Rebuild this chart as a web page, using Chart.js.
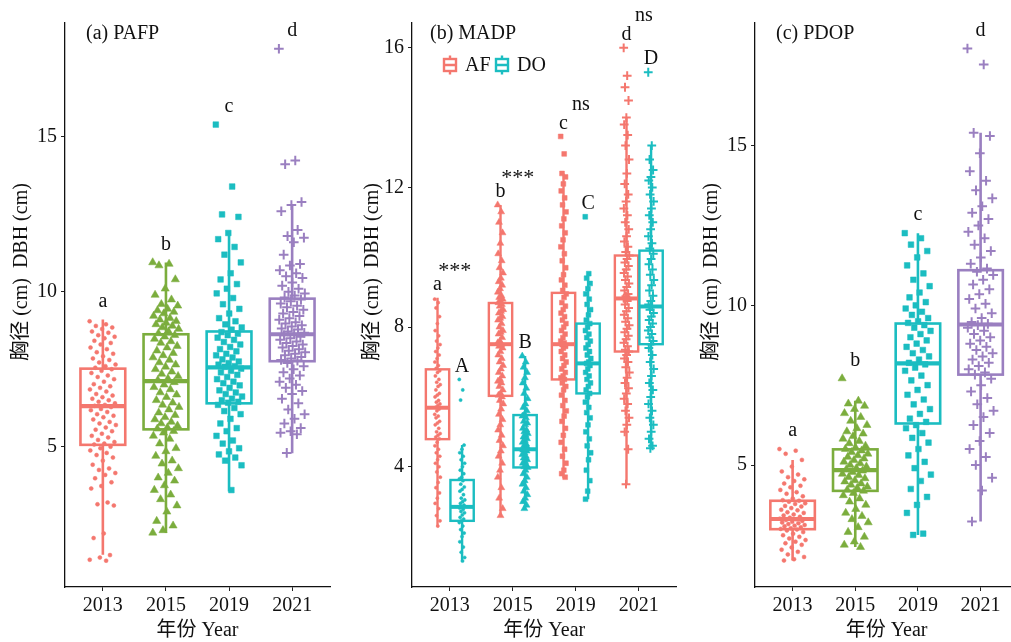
<!DOCTYPE html>
<html>
<head>
<meta charset="utf-8">
<script src="https://cdn.jsdelivr.net/npm/chart.js@4.4.1/dist/chart.umd.min.js"></script>
<style>
html, body { margin: 0; padding: 0; background: #fff; overflow: hidden; width: 1011px; height: 642px; }
canvas { position: absolute; top: 0; }
</style>
</head>
<body>
<canvas id="pa" width="340" height="642" style="left:0"></canvas>
<canvas id="pb" width="345" height="642" style="left:340px"></canvas>
<canvas id="pc" width="340" height="642" style="left:685px"></canvas>
<script>
const years = ['2013', '2015', '2019', '2021'];
const shapes = ['circle', 'triangle', 'rect', 'cross'];
const yearColors = ['#F4776E', '#7BAD3D', '#1BBDC1', '#9A7FC0'];
const afColor = '#F4776E';
const doColor = '#1BBDC1';
const yTitle = '胸径 (cm)  DBH (cm)';
const xTitle = '年份 Year';

// (a) PAFP
const pafp2013 = [9.05, 8.95, 8.9, 8.85, 8.8, 8.72, 8.68, 8.6, 8.55, 8.5, 8.42, 8.35, 8.3, 8.2, 8.15, 8.05, 8.0, 7.92, 7.85, 7.8, 7.72, 7.65, 7.6, 7.55,
  7.5, 7.45, 7.38, 7.3, 7.25, 7.18, 7.1, 7.02, 6.95, 6.9, 6.85, 6.78, 6.7, 6.65, 6.6, 6.55, 6.5, 6.45, 6.4, 6.35, 6.32,
  6.28, 6.22, 6.18, 6.12, 6.05, 6.0, 5.95, 5.88, 5.8, 5.75, 5.7, 5.62, 5.55, 5.5, 5.42, 5.35, 5.3, 5.22, 5.15, 5.1, 5.07,
  5.0, 4.95, 4.88, 4.8, 4.73, 4.65, 4.55, 4.42, 4.3, 4.25, 4.15, 4.09, 3.98, 3.85, 3.73, 3.65, 3.2, 3.14, 3.1, 2.2, 2.05, 1.5, 1.42, 1.35, 1.32];
const pafp2015 = [10.95, 10.9, 10.85, 10.4, 10.1, 9.9, 9.75, 9.6, 9.55, 9.45, 9.4, 9.35, 9.3, 9.22, 9.15, 9.1, 9.05, 9.0, 8.95, 8.9, 8.85, 8.8, 8.72, 8.66,
  8.6, 8.55, 8.48, 8.4, 8.35, 8.25, 8.2, 8.1, 8.02, 7.95, 7.88, 7.8, 7.72, 7.65, 7.58, 7.5, 7.42, 7.35, 7.28, 7.2, 7.15,
  7.08, 7.0, 6.92, 6.85, 6.75, 6.68, 6.6, 6.5, 6.42, 6.35, 6.28, 6.2, 6.1, 6.02, 5.95, 5.88, 5.8, 5.75, 5.68, 5.62, 5.58,
  5.5, 5.45, 5.35, 5.25, 5.1, 4.95, 4.85, 4.7, 4.55, 4.45, 4.3, 4.15, 4.0, 3.9, 3.75, 3.6, 3.45, 3.3, 3.1, 2.9, 2.6, 2.45, 2.3, 2.22];
const pafp2019 = [15.4, 13.4, 12.5, 12.42, 11.9, 11.7, 11.45, 11.2, 10.95, 10.6, 10.4, 10.25, 10.1, 9.95, 9.8, 9.6, 9.45, 9.3, 9.15, 9.05, 8.95, 8.85, 8.78,
  8.7, 8.65, 8.6, 8.52, 8.45, 8.38, 8.3, 8.22, 8.15, 8.08, 8.0, 7.95, 7.88, 7.82, 7.75, 7.7, 7.65, 7.6, 7.58,
  7.52, 7.45, 7.4, 7.32, 7.25, 7.18, 7.1, 7.05, 6.98, 6.9, 6.82, 6.75, 6.7, 6.62, 6.55, 6.5, 6.45, 6.42,
  6.35, 6.25, 6.15, 6.05, 5.9, 5.75, 5.6, 5.5, 5.35, 5.2, 5.1, 4.95, 4.85, 4.75, 4.65, 4.55, 4.4, 3.6];
const pafp2021 = [17.85, 14.24, 14.12, 12.9, 12.8, 12.6, 12.0, 11.8, 11.75, 11.6, 11.2, 10.9, 10.85, 10.7, 10.6, 10.5, 10.45, 10.3, 10.2, 10.1, 10.0, 9.95, 9.88, 9.82,
  9.75, 9.7, 9.62, 9.55, 9.5, 9.42, 9.35, 9.3, 9.22, 9.15, 9.1, 9.02, 8.98, 8.92, 8.88, 8.82, 8.78, 8.72, 8.68, 8.65,
  8.6, 8.55, 8.5, 8.45, 8.4, 8.35, 8.3, 8.25, 8.2, 8.15, 8.1, 8.05, 8.0, 7.95, 7.9, 7.85, 7.8, 7.78,
  7.7, 7.6, 7.5, 7.4, 7.3, 7.2, 7.1, 7.0, 6.9, 6.8, 6.7, 6.55, 6.4, 6.2, 6.05, 5.9, 5.75, 5.6, 5.5, 5.45, 5.4, 4.8];
const pafpLow = [1.51, 2.21, 3.55, 4.79];
const pafpQ1 = [5.06, 5.56, 6.40, 7.76];
const pafpMed = [6.31, 7.12, 7.56, 8.63];
const pafpQ3 = [7.52, 8.63, 8.72, 9.78];
const pafpHigh = [9.11, 10.95, 11.96, 12.77];
const pafpLetters = ['a', 'b', 'c', 'd'];
const pafpTicks = [5, 10, 15];

// (b) MADP
const madpAF2013 = [8.8, 8.7, 8.55, 8.3, 8.1, 7.9, 7.75, 7.6, 7.5, 7.4, 7.3, 7.2, 7.1, 7.0, 6.9, 6.82, 6.75, 6.7, 6.6, 6.5, 6.42, 6.35, 6.3, 6.2, 6.1, 6.05, 6.0,
  5.9, 5.85, 5.8, 5.75, 5.7, 5.65, 5.6, 5.5, 5.45, 5.4, 5.3, 5.25, 5.2, 5.1, 5.0, 4.95, 4.9, 4.85, 4.8, 4.7, 4.6, 4.5, 4.4, 4.3, 4.2, 4.1, 4.0,
  3.85, 3.7, 3.55, 3.4, 3.25, 3.1, 2.95, 2.8, 2.6, 2.45, 2.3];
const madpDO2013 = [6.5, 6.2, 5.91, 4.62, 4.5, 4.4, 4.3, 4.2, 4.1, 4.0, 3.9, 3.8, 3.7, 3.65, 3.6, 3.5, 3.42, 3.35, 3.3, 3.2, 3.1, 3.05, 3.0, 2.95, 2.9,
  2.85, 2.82, 2.78, 2.72, 2.68, 2.62, 2.55, 2.5, 2.45, 2.4, 2.3, 2.2, 2.1, 2.0, 1.85, 1.7, 1.55, 1.4, 1.3];
const madpAF2015 = [11.5, 11.3, 11.0, 10.7, 10.4, 10.1, 9.9, 9.7, 9.55, 9.4, 9.3, 9.2, 9.1, 9.0, 8.9, 8.85, 8.8, 8.75, 8.7, 8.65, 8.6, 8.5, 8.45, 8.4,
  8.3, 8.25, 8.2, 8.1, 8.0, 7.9, 7.85, 7.8, 7.7, 7.6, 7.55, 7.5, 7.45, 7.4, 7.3, 7.2, 7.1, 7.0, 6.9, 6.8, 6.7, 6.6, 6.5, 6.45, 6.4, 6.3, 6.2,
  6.1, 6.05, 6.0, 5.9, 5.8, 5.65, 5.5, 5.35, 5.2, 5.05, 4.9, 4.75, 4.6, 4.45, 4.3, 4.1, 3.9, 3.7, 3.4, 3.1, 2.8, 2.6];
const madpDO2015 = [7.17, 7.0, 6.85, 6.7, 6.55, 6.4, 6.25, 6.1, 5.95, 5.8, 5.7, 5.6, 5.5, 5.45, 5.4, 5.3, 5.25, 5.2, 5.1, 5.05, 5.0, 4.95, 4.9, 4.85,
  4.8, 4.75, 4.7, 4.65, 4.6, 4.55, 4.5, 4.48, 4.45, 4.4, 4.35, 4.3, 4.25, 4.2, 4.15, 4.1, 4.05, 4.0, 3.98, 3.9, 3.8, 3.7, 3.6, 3.5, 3.4, 3.3,
  3.2, 3.1, 3.0, 2.9, 2.8];
const madpAF2019 = [13.46, 12.96, 12.4, 12.3, 12.1, 11.9, 11.7, 11.5, 11.3, 11.1, 10.9, 10.7, 10.5, 10.3, 10.1, 9.9, 9.7, 9.5, 9.35, 9.2, 9.05, 8.95,
  8.85, 8.7, 8.6, 8.5, 8.4, 8.3, 8.2, 8.1, 8.0, 7.9, 7.8, 7.7, 7.6, 7.55, 7.5, 7.45, 7.4, 7.3, 7.2, 7.1, 7.0, 6.9, 6.8, 6.7, 6.6, 6.55, 6.5,
  6.4, 6.3, 6.2, 6.05, 5.9, 5.75, 5.6, 5.45, 5.3, 5.1, 4.9, 4.7, 4.5, 4.3, 4.1, 3.9, 3.8, 3.7];
const madpDO2019 = [11.16, 9.53, 9.4, 9.25, 9.1, 8.95, 8.8, 8.65, 8.5, 8.35, 8.2, 8.1, 8.0, 7.9, 7.8, 7.7, 7.6, 7.5, 7.4, 7.3, 7.2, 7.1, 7.0, 6.96,
  6.9, 6.8, 6.7, 6.6, 6.5, 6.4, 6.3, 6.2, 6.1, 6.0, 5.85, 5.7, 5.55, 5.4, 5.2, 5.0, 4.8, 4.6, 4.4, 4.2, 3.9, 3.6, 3.3, 3.07];
const madpAF2021 = [16.0, 15.2, 14.87, 14.49, 14.0, 13.8, 13.5, 13.2, 12.8, 12.4, 12.1, 11.8, 11.6, 11.4, 11.2, 11.0, 10.8, 10.6, 10.45, 10.3, 10.15,
  10.05, 9.95, 9.85, 9.75, 9.65, 9.55, 9.45, 9.35, 9.25, 9.15, 9.05, 8.95, 8.88, 8.82, 8.75, 8.65, 8.55, 8.45, 8.35, 8.25, 8.15, 8.05, 7.95,
  7.85, 7.75, 7.65, 7.55, 7.45, 7.35, 7.3, 7.2, 7.1, 7.0, 6.85, 6.7, 6.55, 6.4, 6.25, 6.1, 5.95, 5.8, 5.6, 5.4, 5.2, 5.0, 4.5, 3.5];
const madpDO2021 = [15.3, 13.2, 12.8, 12.5, 12.3, 12.2, 12.0, 11.8, 11.6, 11.4, 11.2, 11.0, 10.8, 10.6, 10.4, 10.25, 10.1, 9.95, 9.8, 9.65, 9.5,
  9.35, 9.2, 9.05, 8.9, 8.75, 8.65, 8.59, 8.5, 8.4, 8.3, 8.2, 8.1, 8.0, 7.9, 7.8, 7.7, 7.6, 7.51, 7.4, 7.2, 7.0, 6.8, 6.6, 6.4, 6.2, 6.0,
  5.8, 5.6, 5.4, 5.2, 5.0, 4.8, 4.6, 4.53];
const madpAFLow = [2.28, 2.57, 3.67, 3.48];
const madpAFQ1 = [4.79, 6.03, 6.50, 7.30];
const madpAFMed = [5.69, 7.51, 7.51, 8.82];
const madpAFQ3 = [6.79, 8.69, 8.98, 10.05];
const madpAFHigh = [8.84, 11.5, 12.4, 14.0];
const madpDOLow = [1.28, 2.76, 3.07, 4.53];
const madpDOQ1 = [2.45, 3.98, 6.10, 7.51];
const madpDOMed = [2.85, 4.50, 6.96, 8.59];
const madpDOQ3 = [3.62, 5.48, 8.10, 10.19];
const madpDOHigh = [4.62, 7.17, 9.53, 13.2];
const madpAFLetters = ['a', 'b', 'c', 'd'];
const madpDOLetters = ['A', 'B', 'C', 'D'];
const madpSig = ['***', '***', 'ns', 'ns'];
const madpTicks = [4, 8, 12, 16];

// (c) PDOP
const pdop2013 = [5.5, 5.45, 5.35, 5.16, 4.95, 4.8, 4.7, 4.62, 4.55, 4.5, 4.42, 4.35, 4.3, 4.22, 4.15, 4.1, 4.02, 3.95, 3.9, 3.88, 3.85, 3.8, 3.78,
  3.72, 3.7, 3.65, 3.6, 3.58, 3.52, 3.5, 3.45, 3.42, 3.38, 3.35, 3.32, 3.3, 3.28, 3.25, 3.22, 3.2, 3.18, 3.15, 3.12, 3.1, 3.08, 3.05, 3.02,
  3.0, 2.98, 2.95, 2.9, 2.85, 2.8, 2.75, 2.7, 2.65, 2.6, 2.55, 2.5, 2.42, 2.35, 2.28, 2.2, 2.12, 2.05, 2.01];
const pdop2015 = [7.71, 7.01, 6.92, 6.85, 6.75, 6.62, 6.5, 6.38, 6.25, 6.15, 6.05, 5.98, 5.9, 5.82, 5.75, 5.68, 5.6, 5.55, 5.5, 5.45, 5.4, 5.35,
  5.3, 5.25, 5.2, 5.15, 5.1, 5.05, 5.0, 4.95, 4.9, 4.86, 4.82, 4.78, 4.72, 4.68, 4.62, 4.58, 4.52, 4.48, 4.42, 4.38, 4.32, 4.28, 4.22, 4.19,
  4.12, 4.05, 3.95, 3.85, 3.75, 3.62, 3.5, 3.4, 3.3, 3.2, 3.05, 2.9, 2.75, 2.6, 2.5, 2.43];
const pdop2019 = [12.26, 12.1, 11.9, 11.7, 11.5, 11.25, 11.0, 10.8, 10.6, 10.4, 10.25, 10.1, 10.0, 9.9, 9.8, 9.7, 9.6, 9.5, 9.45, 9.38, 9.3, 9.2,
  9.1, 9.0, 8.9, 8.8, 8.7, 8.6, 8.5, 8.4, 8.3, 8.2, 8.15, 8.05, 7.95, 7.8, 7.65, 7.5, 7.35, 7.2, 7.05, 6.9, 6.75, 6.6, 6.45, 6.35, 6.25,
  6.15, 6.0, 5.85, 5.7, 5.5, 5.3, 5.1, 4.9, 4.7, 4.5, 4.25, 4.0, 3.75, 3.5, 2.85, 2.81];
const pdop2021 = [18.04, 17.54, 15.4, 15.3, 14.76, 14.2, 13.9, 13.6, 13.35, 13.1, 12.9, 12.7, 12.5, 12.3, 12.1, 11.9, 11.7, 11.5, 11.3, 11.15,
  11.05, 10.95, 10.8, 10.65, 10.5, 10.35, 10.2, 10.05, 9.9, 9.75, 9.6, 9.48, 9.42, 9.38, 9.3, 9.2, 9.1, 9.0, 8.9, 8.8, 8.7, 8.6, 8.5, 8.4,
  8.3, 8.2, 8.1, 8.0, 7.9, 7.83, 7.7, 7.5, 7.3, 7.1, 6.9, 6.7, 6.5, 6.25, 6.0, 5.75, 5.5, 5.25, 5.0, 4.6, 4.2, 3.23];
const pdopLow = [2.01, 2.43, 2.81, 3.23];
const pdopQ1 = [2.99, 4.19, 6.30, 7.83];
const pdopMed = [3.31, 4.84, 8.18, 9.40];
const pdopQ3 = [3.88, 5.49, 9.43, 11.10];
const pdopHigh = [5.16, 7.01, 12.26, 15.4];
const pdopLetters = ['a', 'b', 'c', 'd'];
const pdopTicks = [5, 10, 15];

Chart.defaults.font.family = '"Liberation Serif", "Times New Roman", serif';
Chart.defaults.color = '#111';

const textFont = '20px "Liberation Serif", "Noto Sans CJK SC", serif';

function topOf(s, k) {
  return Math.max(s.high[k], ...s.points[k]);
}

// boxes drawn on top of the jittered points, through the chart scales
function boxPlugin(p) {
  return {
    id: 'boxes',
    afterDatasetsDraw(chart) {
      const { ctx, scales: { x, y } } = chart;
      ctx.save();
      p.series.forEach(s => {
        s.med.forEach((m, k) => {
          const c = k + 1 + s.shift;
          const xl = x.getPixelForValue(c - p.boxW / 2);
          const xr = x.getPixelForValue(c + p.boxW / 2);
          const xc = x.getPixelForValue(c);
          const yt = y.getPixelForValue(s.q3[k]);
          const yb = y.getPixelForValue(s.q1[k]);
          ctx.strokeStyle = s.colors[k];
          ctx.lineWidth = p.lw;
          ctx.beginPath();
          ctx.moveTo(xc, y.getPixelForValue(s.high[k]));
          ctx.lineTo(xc, yt);
          ctx.moveTo(xc, yb);
          ctx.lineTo(xc, y.getPixelForValue(s.low[k]));
          ctx.stroke();
          ctx.strokeRect(xl, yt, xr - xl, yb - yt);
          const ym = y.getPixelForValue(m);
          ctx.lineWidth = p.medW;
          ctx.beginPath();
          ctx.moveTo(xl, ym);
          ctx.lineTo(xr, ym);
          ctx.stroke();
        });
      });
      ctx.restore();
    }
  };
}

function drawKey(ctx, cx, cy, col) {
  ctx.strokeStyle = col;
  ctx.lineWidth = 2.4;
  ctx.strokeRect(cx - 6, cy - 6, 12, 12);
  ctx.beginPath();
  ctx.moveTo(cx - 6, cy);
  ctx.lineTo(cx + 6, cy);
  ctx.moveTo(cx, cy - 9.5);
  ctx.lineTo(cx, cy - 6);
  ctx.moveTo(cx, cy + 6);
  ctx.lineTo(cx, cy + 9.5);
  ctx.stroke();
}

function textPlugin(p) {
  return {
    id: 'texts',
    afterDraw(chart) {
      const { ctx, chartArea: a, scales: { x, y } } = chart;
      ctx.save();
      ctx.fillStyle = '#111';
      ctx.font = textFont;
      ctx.textBaseline = 'middle';
      ctx.textAlign = 'left';
      ctx.fillText(p.tag, a.left + p.tagDx, 34);
      ctx.textAlign = 'center';
      ctx.fillText(xTitle, (a.left + a.right) / 2, 631);
      ctx.save();
      ctx.translate(p.titleX, 272);
      ctx.rotate(-Math.PI / 2);
      ctx.fillText(yTitle, 0, 0);
      ctx.restore();

      const letterY = [];
      p.series.forEach(s => {
        s.letters.forEach((t, k) => {
          const ly = y.getPixelForValue(topOf(s, k)) - p.gap;
          letterY[k] = letterY[k] === undefined ? ly : Math.min(letterY[k], ly);
          ctx.fillText(t, x.getPixelForValue(k + 1 + s.shift), ly);
        });
      });
      if (p.sig) {
        p.sig.forEach((t, k) => {
          ctx.font = t === '***' ? '22px "Liberation Serif", serif' : textFont;
          ctx.fillText(t, x.getPixelForValue(k + 1) + 5, letterY[k] - (t === '***' ? 14 : 19));
        });
      }
      if (p.legend) {
        ctx.font = textFont;
        ctx.textAlign = 'left';
        p.legend.forEach(l => {
          drawKey(ctx, l.cx, 65, l.color);
          ctx.fillStyle = '#111';
          ctx.fillText(l.label, l.cx + 15, 66);
        });
      }
      ctx.restore();
    }
  };
}

function makePanel(id, p) {
  const datasets = [];
  p.series.forEach(s => {
    s.points.forEach((vals, k) => {
      const col = s.colors[k];
      datasets.push({
        data: vals.map((v, i) => ({
          x: k + 1 + s.shift + (((i * 0.618034) % 1) - 0.5) * 2 * p.jitter,
          y: v
        })),
        pointStyle: shapes[k],
        pointRadius: p.radius[k],
        pointHoverRadius: p.radius[k],
        backgroundColor: col,
        borderColor: col,
        borderWidth: shapes[k] === 'cross' ? 2 : 0.5
      });
    });
  });

  return new Chart(document.getElementById(id), {
    type: 'scatter',
    data: { datasets },
    options: {
      responsive: false,
      animation: false,
      events: [],
      layout: { padding: { top: 23, right: p.padRight, left: 0, bottom: 0 } },
      plugins: { legend: { display: false }, tooltip: { enabled: false } },
      scales: {
        x: {
          type: 'linear',
          min: 0.4,
          max: 4.6,
          afterBuildTicks: ax => { ax.ticks = years.map((_, i) => ({ value: i + 1 })); },
          afterFit: ax => { ax.height = 55; },
          ticks: {
            callback: v => years[Math.round(v) - 1],
            font: { size: 20 },
            color: '#111',
            padding: 3,
            maxRotation: 0,
            autoSkip: false
          },
          grid: { display: true, drawOnChartArea: false, drawTicks: true, tickLength: 4, color: '#222' },
          border: { display: true, color: '#111', width: 1.3 }
        },
        y: {
          type: 'linear',
          min: p.yMin,
          max: p.yMax,
          afterBuildTicks: ax => { ax.ticks = p.yTicks.map(v => ({ value: v })); },
          afterFit: ax => { ax.width = p.axisW; },
          ticks: { font: { size: 20 }, color: '#111', padding: 4 },
          grid: { display: true, drawOnChartArea: false, drawTicks: true, tickLength: 4, color: '#222' },
          border: { display: true, color: '#111', width: 1.3 }
        }
      }
    },
    plugins: [boxPlugin(p), textPlugin(p)]
  });
}

makePanel('pa', {
  tag: '(a) PAFP', tagDx: 21, titleX: 22,
  yMin: 0.47, yMax: 18.68, yTicks: pafpTicks,
  axisW: 65, padRight: 10,
  boxW: 0.71, jitter: 0.21, lw: 2.6, medW: 4.2, gap: 18,
  radius: [2, 4.7, 4, 4.8],
  series: [{
    points: [pafp2013, pafp2015, pafp2019, pafp2021],
    colors: yearColors, shift: 0,
    low: pafpLow, q1: pafpQ1, med: pafpMed, q3: pafpQ3, high: pafpHigh,
    letters: pafpLetters
  }]
});

makePanel('pb', {
  tag: '(b) MADP', tagDx: 18, titleX: 33,
  yMin: 0.555, yMax: 16.71, yTicks: madpTicks,
  axisW: 72, padRight: 8.4,
  boxW: 0.37, jitter: 0.045, lw: 2.4, medW: 4, gap: 13,
  radius: [1.6, 4, 3.4, 4.4],
  sig: madpSig,
  legend: [{ cx: 110, label: 'AF', color: afColor }, { cx: 162, label: 'DO', color: doColor }],
  series: [{
    points: [madpAF2013, madpAF2015, madpAF2019, madpAF2021],
    colors: [afColor, afColor, afColor, afColor], shift: -0.195,
    low: madpAFLow, q1: madpAFQ1, med: madpAFMed, q3: madpAFQ3, high: madpAFHigh,
    letters: madpAFLetters
  }, {
    points: [madpDO2013, madpDO2015, madpDO2019, madpDO2021],
    colors: [doColor, doColor, doColor, doColor], shift: 0.195,
    low: madpDOLow, q1: madpDOQ1, med: madpDOMed, q3: madpDOQ3, high: madpDOHigh,
    letters: madpDOLetters
  }]
});

makePanel('pc', {
  tag: '(c) PDOP', tagDx: 21, titleX: 27,
  yMin: 1.18, yMax: 18.84, yTicks: pdopTicks,
  axisW: 70, padRight: 5.4,
  boxW: 0.71, jitter: 0.21, lw: 2.6, medW: 4.2, gap: 18,
  radius: [2, 4.7, 4, 4.8],
  series: [{
    points: [pdop2013, pdop2015, pdop2019, pdop2021],
    colors: yearColors, shift: 0,
    low: pdopLow, q1: pdopQ1, med: pdopMed, q3: pdopQ3, high: pdopHigh,
    letters: pdopLetters
  }]
});
</script>
</body>
</html>
